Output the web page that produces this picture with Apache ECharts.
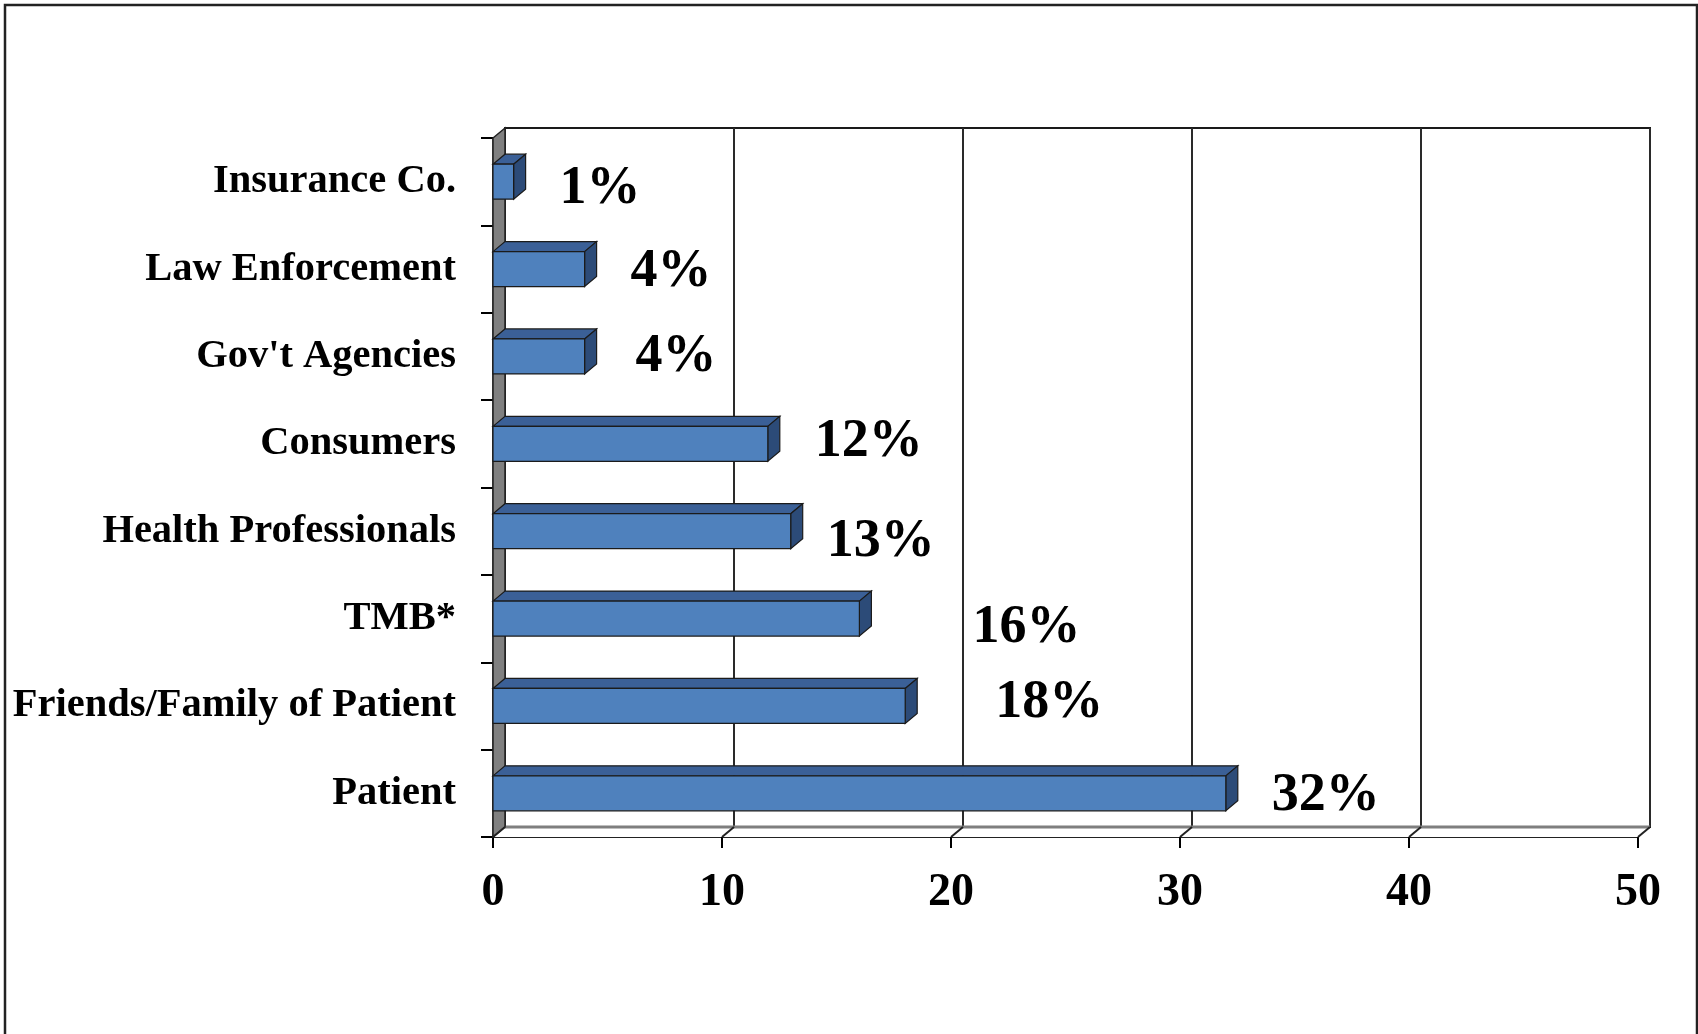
<!DOCTYPE html>
<html lang="en">
<head>
<meta charset="UTF-8">
<title>Complaint sources</title>
<style>
  html, body { margin: 0; padding: 0; background: #fff; }
  #chart { width: 1698px; height: 1034px; }
</style>
<script src="https://cdn.jsdelivr.net/npm/echarts@6/dist/echarts.min.js"></script>
</head>
<body>
<div id="chart"></div>
<script>
// data, listed top to bottom as drawn
var categories = ['Insurance Co.', 'Law Enforcement', "Gov't Agencies", 'Consumers',
                  'Health Professionals', 'TMB*', 'Friends/Family of Patient', 'Patient'];
var percents = [0.9, 4, 4, 12, 13, 16, 18, 32];
var valueLabels = ['1%', '4%', '4%', '12%', '13%', '16%', '18%', '32%'];
var xTicks = [0, 10, 20, 30, 40, 50];

// styling
var SERIF = '"Liberation Serif", "Times New Roman", serif';
var DX = 12, DY = -10;          // 3D depth offset
var LABEL_GAP = 44;
var LABEL_DROP = 4;
// the value labels in the original are placed a bit loosely
var labelNudge = [[2, 3], [2, -1], [7, -3], [3, -6], [-8, 7], [69, 5], [46, -7], [2, -1]];

var chart = echarts.init(document.getElementById('chart'));

function renderBar(params, api) {
    var cat = api.value(0), val = api.value(1);
    var start = api.coord([0, cat]);
    var end = api.coord([val, cat]);
    var h = api.size([0, 1])[1] * 0.4;
    var x0 = start[0], x1 = end[0];
    var yT = start[1] - h / 2, yB = start[1] + h / 2;
    var nudge = labelNudge[params.dataIndex];
    var edge = { stroke: '#1b1b1b', lineWidth: 1.2 };
    return {
        type: 'group',
        children: [
            { type: 'polygon', shape: { points: [[x0, yT], [x0 + DX, yT + DY], [x1 + DX, yT + DY], [x1, yT]] },
              style: Object.assign({ fill: '#3b6097' }, edge) },
            { type: 'polygon', shape: { points: [[x1, yT], [x1 + DX, yT + DY], [x1 + DX, yB + DY], [x1, yB]] },
              style: Object.assign({ fill: '#2c4b78' }, edge) },
            { type: 'rect', shape: { x: x0, y: yT, width: x1 - x0, height: h },
              style: Object.assign({ fill: '#4f81bd' }, edge) },
            { type: 'text', x: x1 + LABEL_GAP + nudge[0], y: start[1] + LABEL_DROP + nudge[1],
              style: { text: valueLabels[params.dataIndex], fill: '#000',
                       font: 'bold 54px ' + SERIF, verticalAlign: 'middle', align: 'left' } }
        ]
    };
}

function renderWalls(params, api) {
    var cs = params.coordSys;
    var x = api.value(0);
    var p = api.coord([x, 0]);
    var yF = cs.y + cs.height;
    var children = [];
    if (params.dataIndex === 0) {
        var L = cs.x, R = cs.x + cs.width;
        children.push(
            { type: 'polygon', shape: { points: [[L, yF], [R, yF], [R + DX, yF + DY], [L + DX, yF + DY]] },
              style: { fill: '#fff' } },
            { type: 'line', shape: { x1: L + DX, y1: yF + DY, x2: R + DX, y2: yF + DY },
              style: { stroke: '#7f7f7f', lineWidth: 3 } },
            { type: 'polygon', shape: { points: [[L, cs.y], [L + DX, cs.y + DY], [L + DX, yF + DY], [L, yF]] },
              style: { fill: '#808080', stroke: '#222', lineWidth: 1.5 } }
        );
    }
    children.push({ type: 'line', shape: { x1: p[0], y1: yF, x2: p[0] + DX, y2: yF + DY },
                    style: { stroke: '#222', lineWidth: 2 } });
    return { type: 'group', children: children };
}

var option = {
    backgroundColor: '#fff',
    animation: false,
    graphic: [{
        type: 'polyline',
        shape: { points: [[5, 1040], [5, 5], [1697, 5], [1697, 1040]] },
        style: { stroke: '#222', lineWidth: 2.5, fill: null }
    }],
    grid: [
        { left: 493, right: 60, top: 138, bottom: 197 },
        { left: 493 + DX, right: 60 - DX, top: 138 + DY, bottom: 197 - DY,
          show: true, backgroundColor: '#fff', borderColor: '#1a1a1a', borderWidth: 2 }
    ],
    xAxis: [
        {
            type: 'value', gridIndex: 0, min: 0, max: 50, interval: 10,
            axisLine: { show: true, lineStyle: { color: '#222', width: 2 } },
            axisTick: { show: true, length: 11, lineStyle: { color: '#000', width: 2 } },
            axisLabel: { margin: 33, color: '#000', fontFamily: SERIF, fontWeight: 'bold', fontSize: 46 },
            splitLine: { show: false }
        },
        {
            type: 'value', gridIndex: 1, min: 0, max: 50, interval: 10,
            axisLine: { show: false }, axisTick: { show: false }, axisLabel: { show: false },
            splitLine: { show: true, lineStyle: { color: '#2a2a2a', width: 2 } }
        }
    ],
    yAxis: [
        {
            type: 'category', gridIndex: 0, data: categories, inverse: true,
            axisLine: { show: true, lineStyle: { color: '#222', width: 1.5 } },
            axisTick: { show: true, length: 12, lineStyle: { color: '#000', width: 2 } },
            axisLabel: { margin: 37, color: '#000', fontFamily: SERIF, fontWeight: 'bold', fontSize: 40.5 },
            splitLine: { show: false }
        },
        { type: 'category', gridIndex: 1, data: categories, inverse: true, show: false }
    ],
    series: [
        {
            name: 'walls', type: 'custom', xAxisIndex: 0, yAxisIndex: 0,
            data: xTicks.map(function (t) { return [t]; }),
            renderItem: renderWalls, silent: true, z: 1
        },
        {
            name: 'share', type: 'custom', xAxisIndex: 0, yAxisIndex: 0,
            encode: { x: 1, y: 0 },
            data: percents.map(function (v, i) { return [i, v]; }),
            renderItem: renderBar, z: 3
        }
    ]
};
chart.setOption(option);
</script>
</body>
</html>
